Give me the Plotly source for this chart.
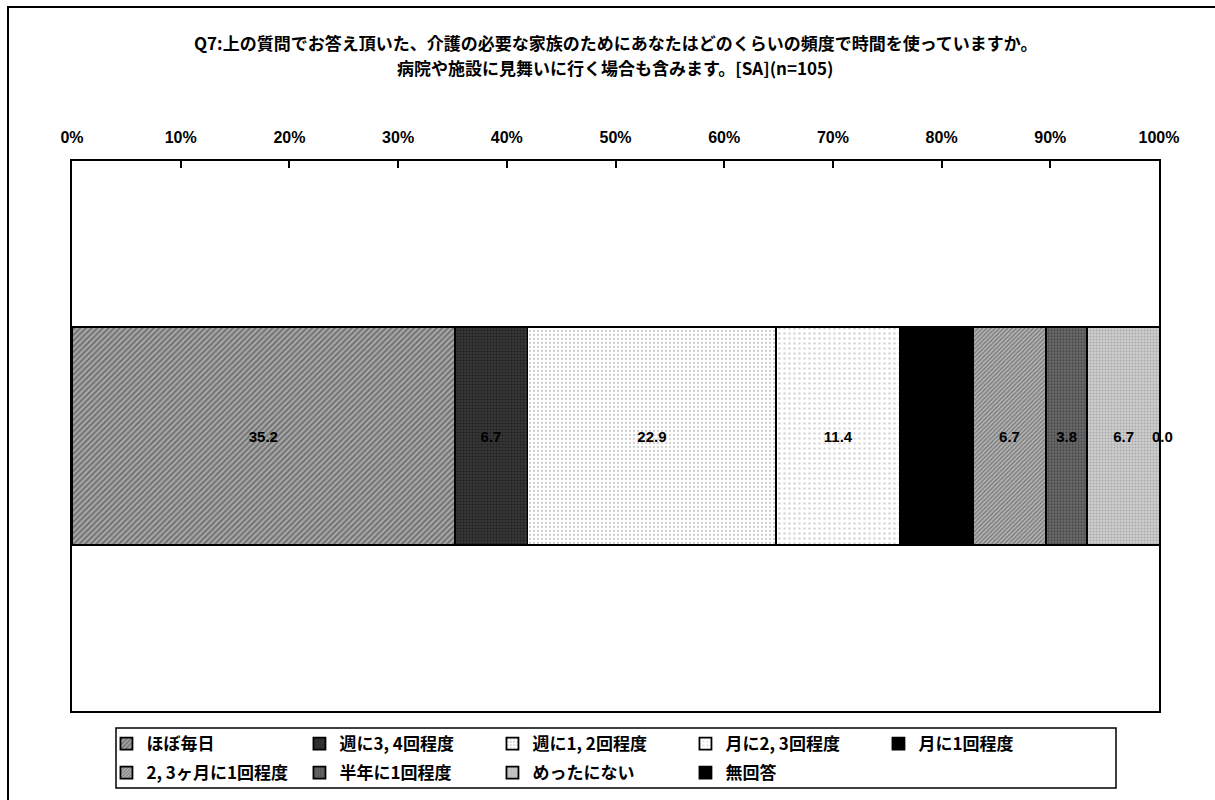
import plotly.graph_objects as go

# Survey result: how often respondents spend time caring for a family member (n=105)
categories = ["ほぼ毎日", "週に3, 4回程度", "週に1, 2回程度", "月に2, 3回程度", "月に1回程度",
              "2, 3ヶ月に1回程度", "半年に1回程度", "めったにない", "無回答"]
values = [35.2, 6.7, 22.9, 11.4, 6.7, 6.7, 3.8, 6.7, 0.0]
tick_vals = [0, 10, 20, 30, 40, 50, 60, 70, 80, 90, 100]
tick_text = ["0%", "10%", "20%", "30%", "40%", "50%", "60%", "70%", "80%", "90%", "100%"]
title_lines = ["Q7:上の質問でお答え頂いた、介護の必要な家族のためにあなたはどのくらいの頻度で時間を使っていますか。",
               "病院や施設に見舞いに行く場合も含みます。[SA](n=105)"]

# fill style per answer: (background, pattern shape, pattern colour, pattern size, solidity)
fills = [
    ("#a6a6a6", "/", "#2e2e2e", 4, 0.4),
    ("#3c3c3c", ".", "#0c0c0c", 3, 0.5),
    ("#ffffff", ".", "#a0a0a0", 4, 0.25),
    ("#ffffff", ".", "#b0b0b0", 5, 0.2),
    ("#000000", "", "#000000", 4, 0.3),
    ("#b4b4b4", "/", "#333333", 3, 0.4),
    ("#6e6e6e", ".", "#262626", 3, 0.45),
    ("#cdcdcd", ".", "#858585", 3, 0.35),
    ("#000000", "", "#000000", 4, 0.3),
]

# first five answers on the first legend row, the rest on the second
legend_rows = ["legend"] * 5 + ["legend2"] * 4

label_font = dict(family="Liberation Sans, Arial", size=15, color="#000000", weight="bold")

fig = go.Figure()
for i, (name, v) in enumerate(zip(categories, values)):
    bg, shape, fg, size, sol = fills[i]
    fig.add_trace(go.Bar(
        x=[v], y=["Q7"], orientation="h", name=name, legend=legend_rows[i],
        marker=dict(color=bg, line=dict(color="#000000", width=1.8),
                    pattern=dict(shape=shape, fgcolor=fg, bgcolor=bg, size=size, solidity=sol)),
        text=[f"{v:.1f}"] if v > 0 else None,
        textposition="inside", insidetextanchor="middle", constraintext="none",
        textfont=label_font, hoverinfo="name+x",
    ))

# the zero-width last segment gets its value written at the end of the stack
stack_end = min(sum(values), 100)
annotations = [dict(x=stack_end, y="Q7", xref="x", yref="y", text=f"{values[-1]:.1f}",
                    showarrow=False, xanchor="center", xshift=3, font=label_font)]
annotations += [
    dict(text=title_lines[0], xref="paper", yref="paper", x=0.5, y=(711 - 43) / 550,
         xanchor="center", yanchor="middle", showarrow=False,
         font=dict(family="Noto Sans CJK JP", size=17, weight="bold")),
    dict(text=title_lines[1], xref="paper", yref="paper", x=0.5, y=(711 - 67) / 550,
         xanchor="center", yanchor="middle", showarrow=False,
         font=dict(family="Noto Sans CJK JP", size=17, weight="bold")),
]

legend_common = dict(orientation="h", xanchor="left", yanchor="middle",
                     entrywidth=148, entrywidthmode="pixels", traceorder="normal",
                     bgcolor="rgba(0,0,0,0)", borderwidth=0, itemwidth=30,
                     font=dict(family="Noto Sans CJK JP", size=17, weight="bold"))

fig.update_layout(
    width=1215, height=800,
    margin=dict(l=72, r=56, t=161, b=89, autoexpand=False),
    barmode="stack", bargap=0.604,
    plot_bgcolor="#ffffff", paper_bgcolor="#ffffff",
    font=dict(family="Noto Sans CJK JP", color="#000000"),
    xaxis=dict(side="top", range=[0, 100], tickvals=tick_vals, ticktext=tick_text,
               ticks="inside", ticklen=7, tickcolor="#000000", tickwidth=1.5,
               ticklabelstandoff=10,
               showgrid=False, zeroline=False, showline=True, linecolor="#000000",
               linewidth=1.8, mirror=True,
               tickfont=dict(family="Liberation Sans, Arial", size=16, weight="bold")),
    yaxis=dict(showticklabels=False, showgrid=False, zeroline=False, showline=True,
               linecolor="#000000", linewidth=1.8, mirror=True, ticks=""),
    showlegend=True,
    legend=dict(x=0.0317, y=(711 - 744) / 550, **legend_common),
    legend2=dict(x=0.0317, y=(711 - 773) / 550, **legend_common),
    annotations=annotations,
    shapes=[
        # legend frame
        dict(type="rect", xref="paper", yref="paper", x0=(116 - 72) / 1087, x1=(1116 - 72) / 1087,
             y0=-(788 - 711) / 550, y1=-(728 - 711) / 550, line=dict(color="#000000", width=1.5)),
        # outer chart frame
        dict(type="rect", xref="paper", yref="paper", x0=(8 - 72) / 1087, x1=(1225 - 72) / 1087,
             y0=-(820 - 711) / 550, y1=(711 - 7) / 550, line=dict(color="#000000", width=2)),
    ],
)

fig.write_html("out.html")
